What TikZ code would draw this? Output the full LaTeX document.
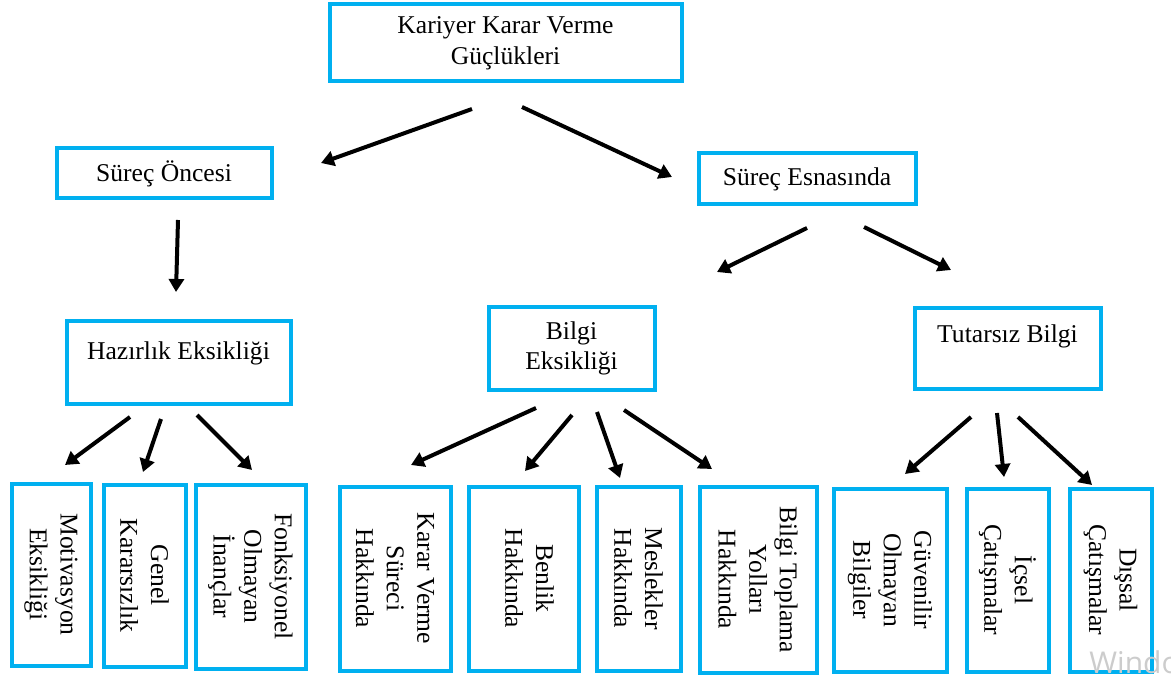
\documentclass[tikz,border=0pt]{standalone}
\usepackage{fontspec}
\setmainfont{Liberation Serif}
\newfontfamily\wmfont{Open Sans}
\usetikzlibrary{arrows.meta,calc}
\definecolor{boxblue}{RGB}{0,176,240}
\tikzset{
  box/.style={draw=boxblue, line width=2pt, inner sep=0pt, align=center, font=\fontsize{12.8}{15.3}\selectfont},
  hbx/.style 2 args={box, minimum width=#1*0.5pt, minimum height=#2*0.5pt},
  vbx/.style 2 args={box, rotate=-90, minimum width=#2*0.5pt, minimum height=#1*0.5pt},
  txt/.style={inner sep=0pt, align=center, font=\fontsize{12.8}{15.3}\selectfont},
  arr/.style={line width=2pt, -{Triangle[length=6.5pt,width=7.5pt]}}
}
\begin{document}
\begin{tikzpicture}[x=0.5pt,y=-0.5pt]
\clip (0,0) rectangle (1171,678);
\useasboundingbox (0,0) rectangle (1171,678);
\fill[white] (0,0) rectangle (1171,678);

% top level
\node[hbx={352}{77}] (top) at (505.5,43) {Kariyer Karar Verme\\Güçlükleri};

% second level
\node[hbx={215}{50}] (so) at (164,173.5) {Süreç Öncesi};
\node[hbx={217}{51}] (se) at (807,179) {Süreç Esnasında};

% third level
\node[hbx={224}{82}] (hz) at (178.5,362.5) {};
\node[txt] (hzt) at ($(hz)+(0,-9)$) {Hazırlık Eksikliği};
\node[hbx={166}{82}] (bi) at (571.5,348.5) {Bilgi\\Eksikliği};
\node[hbx={186}{80}] (tb) at (1007.5,348.5) {};
\node[txt] (tbt) at ($(tb)+(0,-12)$) {Tutarsız Bilgi};

% bottom level
\node[vbx={79}{182}] (mo) at (51,574.5) {Motivasyon\\Eksikliği};
\node[vbx={82}{182}] (ge) at (144.5,575.5) {Genel\\Kararsızlık};
\node[vbx={110}{184}] (fo) at (250.5,576.5) {Fonksiyonel\\Olmayan\\İnançlar};
\node[vbx={111}{184}] (kv) at (395,578.5) {Karar Verme\\Süreci\\Hakkında};
\node[vbx={110}{184}] (be) at (523.5,578.5) {};
\node[txt, rotate=-90] (bet) at ($(be)+(6,0)$) {Benlik\\Hakkında};
\node[vbx={84}{184}] (me) at (638.5,578.5) {Meslekler\\Hakkında};
\node[vbx={117}{186}] (bt) at (758,579.5) {Bilgi Toplama\\Yolları\\Hakkında};
\node[vbx={113}{183}] (gu) at (890,580) {Güvenilir\\Olmayan\\Bilgiler};
\node[vbx={82}{183}] (ic) at (1007.5,580) {İçsel\\Çatışmalar};
\node[vbx={82}{183}] (di) at (1110.5,580) {Dışsal\\Çatışmalar};

% arrows
\draw[arr] ($(top)+(-33.5,66)$) -- ($(so)+(157,-10.5)$);
\draw[arr] ($(top)+(16.5,64)$) -- ($(se)+(-135,-2)$);
\draw[arr] ($(so)+(14,46.5)$) -- ($(hz)+(-2.5,-70.5)$);
\draw[arr] ($(se)+(0,49)$) -- ($(bi)+(145.5,-76.5)$);
\draw[arr] ($(se)+(57,48)$) -- ($(tb)+(-56.5,-78.5)$);
\draw[arr] ($(hz)+(-48.5,54.5)$) -- ($(mo)+(14,-109.5)$);
\draw[arr] ($(hz)+(-17.5,56.5)$) -- ($(ge)+(-1.5,-103.5)$);
\draw[arr] ($(hz)+(18.5,52.5)$) -- ($(fo)+(1.5,-106.5)$);
\draw[arr] ($(bi)+(-35.5,59.5)$) -- ($(kv)+(16,-113.5)$);
\draw[arr] ($(bi)+(0.5,66.5)$) -- ($(be)+(1.5,-107.5)$);
\draw[arr] ($(bi)+(25.5,63.5)$) -- ($(me)+(-18.5,-100.5)$);
\draw[arr] ($(bi)+(52.5,61.5)$) -- ($(bt)+(-46,-110.5)$);
\draw[arr] ($(tb)+(-36.5,68.5)$) -- ($(gu)+(15,-106)$);
\draw[arr] ($(tb)+(-10.5,64.5)$) -- ($(ic)+(-3.5,-103)$);
\draw[arr] ($(tb)+(10.5,68.5)$) -- ($(di)+(-18.5,-95)$);

% watermark
\node[anchor=north west, inner sep=0pt, text=gray!40, font=\wmfont\fontsize{15}{15}\selectfont] (wm) at (1089,650) {Windows};
\end{tikzpicture}
\end{document}
